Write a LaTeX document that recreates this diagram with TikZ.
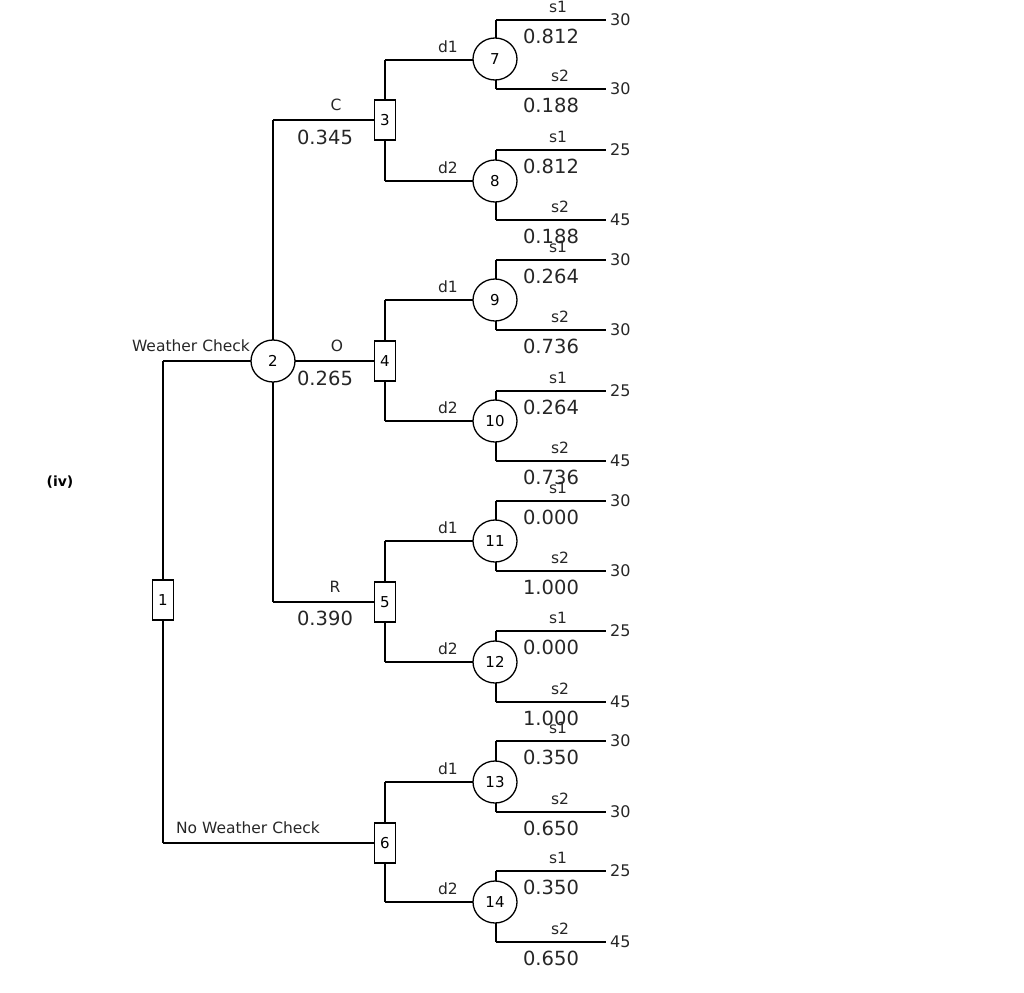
\documentclass[tikz,border=0pt]{standalone}
\usepackage{fontspec}
\setmainfont{DejaVu Sans}
\usetikzlibrary{shapes.geometric}
\begin{document}
\begin{tikzpicture}[x=1pt,y=-1pt,
  dec/.style={draw,line width=1.3pt,fill=white,minimum width=21pt,minimum height=40pt,inner sep=0pt,font=\fontsize{15}{15}\selectfont},
  ch/.style={draw,line width=1.3pt,fill=white,ellipse,minimum width=44pt,minimum height=42pt,inner sep=0pt,font=\fontsize{15}{15}\selectfont},
  ln/.style={line width=1.3pt},
  lab/.style={font=\fontsize{15.5}{15}\selectfont,inner sep=0pt,text=black!85},
  prob/.style={font=\fontsize{19.5}{19}\selectfont,inner sep=0pt,text=black!85},
  val/.style={font=\fontsize{16}{16}\selectfont,inner sep=0pt,anchor=west,text=black!85}]
\useasboundingbox (0,0) rectangle (1024,992);
\node[font=\bfseries\fontsize{14}{14}\selectfont] at (60,482) {(iv)};
\coordinate (c1t) at (163,361); \coordinate (c1b) at (163,843);
\coordinate (c2t) at (273,120); \coordinate (c2b) at (273,602);
\draw[ln] (c1t) -- (c1b);
\draw[ln] (c1t) -- (273,361);
\draw[ln] (c1b) -- (385,843);
\draw[ln] (c2t) -- (c2b);
\draw[ln] (c2t) -- (385,120);
\draw[ln] (273,361) -- (385,361);
\draw[ln] (c2b) -- (385,602);
\foreach \n/\y/\a/\b in {3/120/60/181, 4/361/300/421, 5/602/541/662, 6/843/782/902}{
  \draw[ln] (385,\a) -- (385,\b);
  \draw[ln] (385,\a) -- (496,\a);
  \draw[ln] (385,\b) -- (496,\b);
  \node[lab] at (448,\a-13) {d1};
  \node[lab] at (448,\b-13) {d2};
}
\foreach \c/\t/\b/\vt/\vb/\pt/\pb in {
  7/20/89/30/30/0.812/0.188, 8/150/220/25/45/0.812/0.188,
  9/260/330/30/30/0.264/0.736, 10/391/461/25/45/0.264/0.736,
  11/501/571/30/30/0.000/1.000, 12/631/702/25/45/0.000/1.000,
  13/741/812/30/30/0.350/0.650, 14/871/942/25/45/0.350/0.650}{
  \draw[ln] (496,\t) -- (496,\b);
  \draw[ln] (496,\t) -- (606,\t);
  \draw[ln] (496,\b) -- (606,\b);
  \node[lab] at (558,\t-13) {s1};
  \node[lab] at (560,\b-13) {s2};
  \node[prob] at (551,\t+16) {\pt};
  \node[prob] at (551,\b+16) {\pb};
  \node[val] at (610,\t) {\vt};
  \node[val] at (610,\b) {\vb};
}
\foreach \c/\y in {7/59,8/181,9/300,10/421,11/541,12/662,13/782,14/902}{
  \node[ch] (n\c) at (495,\y) {\c};
}
\node[dec] (n1) at (163,600) {1};
\node[ch] (n2) at (273,361) {2};
\node[dec] (n3) at (385,120) {3};
\node[dec] (n4) at (385,361) {4};
\node[dec] (n5) at (385,602) {5};
\node[dec] (n6) at (385,843) {6};
\node[lab] at (191,346) {Weather Check};
\node[lab] at (248,828) {No Weather Check};
\node[lab] at (336,105) {C}; \node[prob] at (325,137) {0.345};
\node[lab] at (337,346) {O}; \node[prob] at (325,378) {0.265};
\node[lab] at (335,587) {R}; \node[prob] at (325,618) {0.390};
\end{tikzpicture}
\end{document}
